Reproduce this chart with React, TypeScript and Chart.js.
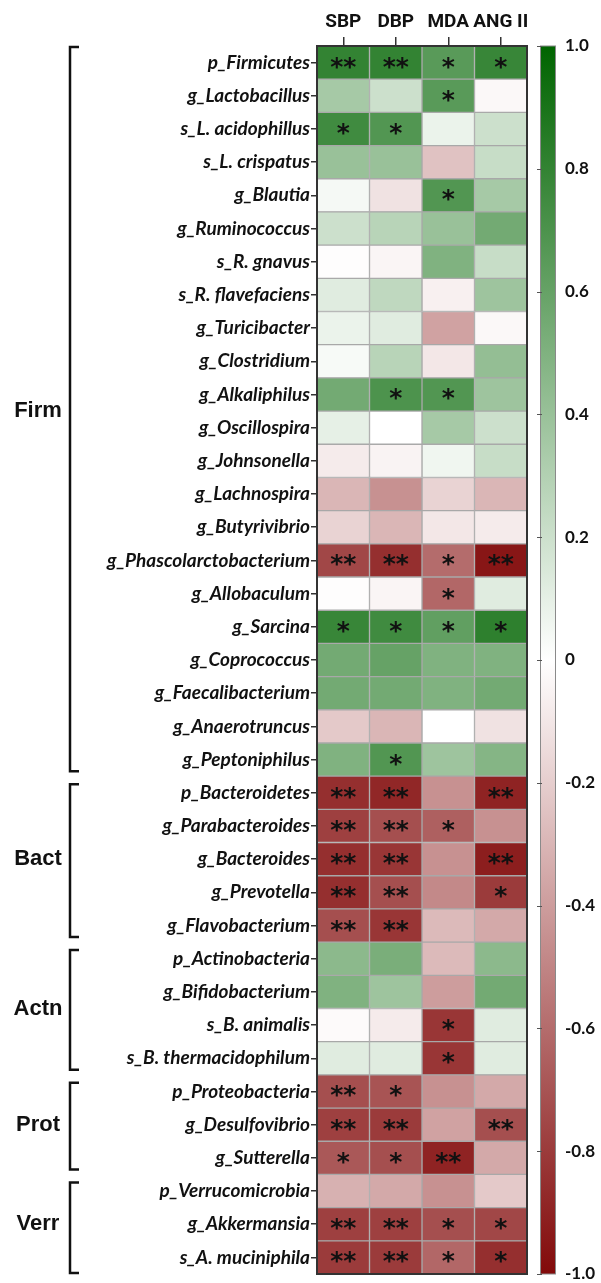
import React, { useEffect, useRef } from 'react';
import { Chart, registerables } from 'chart.js';

Chart.register(...registerables);

const taxa = [
  'p_Firmicutes', 'g_Lactobacillus', 's_L. acidophillus', 's_L. crispatus', 'g_Blautia',
  'g_Ruminococcus', 's_R. gnavus', 's_R. flavefaciens', 'g_Turicibacter', 'g_Clostridium',
  'g_Alkaliphilus', 'g_Oscillospira', 'g_Johnsonella', 'g_Lachnospira', 'g_Butyrivibrio',
  'g_Phascolarctobacterium', 'g_Allobaculum', 'g_Sarcina', 'g_Coprococcus', 'g_Faecalibacterium',
  'g_Anaerotruncus', 'g_Peptoniphilus',
  'p_Bacteroidetes', 'g_Parabacteroides', 'g_Bacteroides', 'g_Prevotella', 'g_Flavobacterium',
  'p_Actinobacteria', 'g_Bifidobacterium', 's_B. animalis', 's_B. thermacidophilum',
  'p_Proteobacteria', 'g_Desulfovibrio', 'g_Sutterella',
  'p_Verrucomicrobia', 'g_Akkermansia', 's_A. muciniphila',
];

const groupNames = ['Firm', 'Bact', 'Actn', 'Prot', 'Verr'];
const groupSizes = [22, 5, 4, 3, 3];

const measures = ['SBP', 'DBP', 'MDA', 'ANG II'];

const sbp = [
  0.80, 0.35, 0.75, 0.40, 0.04, 0.20, -0.01, 0.12, 0.08, 0.03,
  0.55, 0.10, -0.08, -0.30, -0.18, -0.75, -0.01, 0.78, 0.55, 0.55,
  -0.22, 0.50,
  -0.85, -0.78, -0.85, -0.85, -0.72,
  0.45, 0.50, -0.02, 0.12,
  -0.72, -0.78, -0.68,
  -0.32, -0.78, -0.80,
];
const dbp = [
  0.80, 0.20, 0.68, 0.40, -0.12, 0.28, -0.04, 0.25, 0.12, 0.28,
  0.70, 0.00, -0.05, -0.45, -0.30, -0.85, -0.04, 0.75, 0.60, 0.55,
  -0.30, 0.68,
  -0.88, -0.72, -0.82, -0.72, -0.82,
  0.52, 0.38, -0.08, 0.12,
  -0.70, -0.80, -0.72,
  -0.35, -0.78, -0.80,
];
const mda = [
  0.65, 0.65, 0.08, -0.25, 0.68, 0.40, 0.50, -0.06, -0.38, -0.10,
  0.68, 0.35, 0.06, -0.18, -0.10, -0.60, -0.62, 0.62, 0.50, 0.50,
  0.00, 0.38,
  -0.45, -0.65, -0.45, -0.48, -0.28,
  -0.28, -0.40, -0.82, -0.82,
  -0.45, -0.38, -0.90,
  -0.45, -0.72, -0.62,
];
const angII = [
  0.78, -0.03, 0.20, 0.22, 0.35, 0.55, 0.22, 0.38, -0.03, 0.42,
  0.38, 0.20, 0.22, -0.30, -0.08, -0.95, 0.12, 0.82, 0.50, 0.55,
  -0.12, 0.48,
  -0.90, -0.45, -0.92, -0.80, -0.35,
  0.45, 0.55, 0.12, 0.12,
  -0.35, -0.72, -0.35,
  -0.22, -0.75, -0.85,
];

const sigSbp = [
  '**', '', '*', '', '', '', '', '', '', '',
  '', '', '', '', '', '**', '', '*', '', '',
  '', '',
  '**', '**', '**', '**', '**',
  '', '', '', '',
  '**', '**', '*',
  '', '**', '**',
];
const sigDbp = [
  '**', '', '*', '', '', '', '', '', '', '',
  '*', '', '', '', '', '**', '', '*', '', '',
  '', '*',
  '**', '**', '**', '**', '**',
  '', '', '', '',
  '*', '**', '*',
  '', '**', '**',
];
const sigMda = [
  '*', '*', '', '', '*', '', '', '', '', '',
  '*', '', '', '', '', '*', '*', '*', '', '',
  '', '',
  '', '*', '', '', '',
  '', '', '*', '*',
  '', '', '**',
  '', '*', '*',
];
const sigAng = [
  '*', '', '', '', '', '', '', '', '', '',
  '', '', '', '', '', '**', '', '*', '', '',
  '', '',
  '**', '', '**', '*', '',
  '', '', '', '',
  '', '**', '',
  '', '*', '*',
];

const colorbarMin = -1;
const colorbarMax = 1;
const colorbarStep = 0.2;

const GREEN = [0, 100, 0];
const RED = [130, 10, 10];

function cellColor(v: number): string {
  const end = v >= 0 ? GREEN : RED;
  const t = Math.min(1, Math.abs(v));
  const c = end.map((e) => Math.round(255 + (e - 255) * t));
  return `rgb(${c[0]},${c[1]},${c[2]})`;
}

export default function App() {
  const ref = useRef<HTMLCanvasElement | null>(null);

  useEffect(() => {
    if (!ref.current) return;
    const series = [sbp, dbp, mda, angII];
    const sigs = [sigSbp, sigDbp, sigMda, sigAng];

    const datasets = series.map((vals, ci) => ({
      label: measures[ci],
      data: vals.map(() => [ci, ci + 1]),
      backgroundColor: vals.map(cellColor),
      borderColor: '#a9a9a9',
      borderWidth: 1,
      borderSkipped: false,
      grouped: false,
      categoryPercentage: 1,
      barPercentage: 1,
      xAxisID: 'x',
      yAxisID: 'y',
    }));

    const frameAndStars = {
      id: 'frameAndStars',
      afterDatasetsDraw(chart: any) {
        const ctx = chart.ctx;
        const ca = chart.chartArea;
        ctx.save();
        ctx.fillStyle = '#111';
        ctx.font = 'bold 25px "DejaVu Sans"';
        ctx.textAlign = 'center';
        ctx.textBaseline = 'alphabetic';
        chart.data.datasets.forEach((ds: any, di: number) => {
          const meta = chart.getDatasetMeta(di);
          meta.data.forEach((el: any, ri: number) => {
            const s = sigs[di][ri];
            if (!s) return;
            const p = el.getCenterPoint();
            const m = ctx.measureText(s);
            const off = (m.actualBoundingBoxAscent - m.actualBoundingBoxDescent) / 2;
            ctx.fillText(s, p.x, p.y + off);
          });
        });
        ctx.strokeStyle = '#333';
        ctx.lineWidth = 2;
        ctx.strokeRect(ca.left, ca.top, ca.right - ca.left, ca.bottom - ca.top);
        ctx.restore();
      },
      afterDraw(chart: any) {
        const ctx = chart.ctx;
        const y = chart.scales.y;
        const cb = chart.scales.cb;
        ctx.save();
        const half = (y.getPixelForValue(1) - y.getPixelForValue(0)) / 2;
        let start = 0;
        ctx.strokeStyle = '#111';
        ctx.lineWidth = 2.5;
        ctx.fillStyle = '#111';
        ctx.font = 'bold 22px "Liberation Sans"';
        ctx.textAlign = 'center';
        ctx.textBaseline = 'middle';
        groupSizes.forEach((n, gi) => {
          const top = y.getPixelForValue(start) - half;
          const bot = y.getPixelForValue(start + n - 1) + half;
          const bt = top + (gi === 0 ? 1 : 8);
          const bb = bot - (gi === groupSizes.length - 1 ? 1 : 5);
          ctx.beginPath();
          ctx.moveTo(79, bt);
          ctx.lineTo(70, bt);
          ctx.lineTo(70, bb);
          ctx.lineTo(79, bb);
          ctx.stroke();
          ctx.fillText(groupNames[gi], 38, (top + bot) / 2);
          start += n;
        });
        const top = cb.getPixelForValue(colorbarMax);
        const bot = cb.getPixelForValue(colorbarMin);
        const x0 = 540;
        const w = 15;
        const g = ctx.createLinearGradient(0, top, 0, bot);
        g.addColorStop(0, cellColor(1));
        g.addColorStop(0.5, '#ffffff');
        g.addColorStop(1, cellColor(-1));
        ctx.fillStyle = g;
        ctx.fillRect(x0, top, w, bot - top);
        ctx.strokeStyle = '#8a8a8a';
        ctx.lineWidth = 1;
        ctx.strokeRect(x0 + 0.5, top, w, bot - top);
        ctx.strokeStyle = '#555';
        cb.ticks.forEach((t: any) => {
          const py = Math.round(cb.getPixelForValue(t.value)) + 0.5;
          ctx.beginPath();
          ctx.moveTo(x0 - 3, py);
          ctx.lineTo(x0 + 2, py);
          ctx.stroke();
        });
        ctx.restore();
      },
    };

    const chart = new Chart(ref.current, {
      type: 'bar',
      data: { labels: taxa, datasets: datasets as any },
      plugins: [frameAndStars],
      options: {
        animation: false,
        responsive: false,
        indexAxis: 'y',
        layout: { padding: { left: 0, right: 0, top: 0, bottom: 9 } },
        plugins: { legend: { display: false }, tooltip: { enabled: false } },
        scales: {
          x: {
            type: 'linear',
            position: 'top',
            min: 0,
            max: measures.length,
            afterBuildTicks: (scale: any) => {
              scale.ticks = measures.map((_, i) => ({ value: i + 0.5 }));
            },
            afterFit: (scale: any) => {
              scale.height = 46;
              scale.paddingLeft = 0;
              scale.paddingRight = 0;
            },
            ticks: {
              callback: (v: any) => measures[Math.floor(Number(v))] ?? '',
              font: { family: 'Roboto', weight: 'bold', size: 19 },
              color: '#111',
              padding: 3,
              maxRotation: 0,
            },
            grid: { drawOnChartArea: false, drawTicks: true, tickLength: 9, color: '#333', lineWidth: 1.5 },
            border: { display: false },
          },
          y: {
            type: 'category',
            position: 'left',
            offset: true,
            afterFit: (scale: any) => {
              scale.width = 317;
              scale.paddingTop = 0;
              scale.paddingBottom = 0;
            },
            ticks: {
              autoSkip: false,
              font: { family: 'Lato', weight: 'bold', style: 'italic', size: 19 },
              color: '#111',
              padding: 1,
            },
            grid: { drawOnChartArea: false, drawTicks: true, tickLength: 6, color: '#333', lineWidth: 1.5, offset: false },
            border: { display: false },
          },
          cb: {
            type: 'linear',
            axis: 'y',
            position: 'right',
            offset: false,
            min: colorbarMin,
            max: colorbarMax,
            afterFit: (scale: any) => {
              scale.width = 74;
              scale.paddingTop = 0;
              scale.paddingBottom = 0;
            },
            ticks: {
              stepSize: colorbarStep,
              callback: (v: any) => {
                const r = Math.round(Number(v) * 10) / 10;
                return r === 0 ? '0' : r.toFixed(1);
              },
              font: { family: 'Lato', weight: 'bold', size: 17 },
              color: '#111',
              padding: 30,
            },
            grid: { display: false },
            border: { display: false },
          },
        },
      } as any,
    });
    return () => chart.destroy();
  }, []);

  return (
    <div style={{ position: 'absolute', left: 0, top: 0, width: 601, height: 1283, background: '#fff' }}>
      <canvas ref={ref} width={601} height={1283} style={{ display: 'block', width: 601, height: 1283 }} />
    </div>
  );
}
